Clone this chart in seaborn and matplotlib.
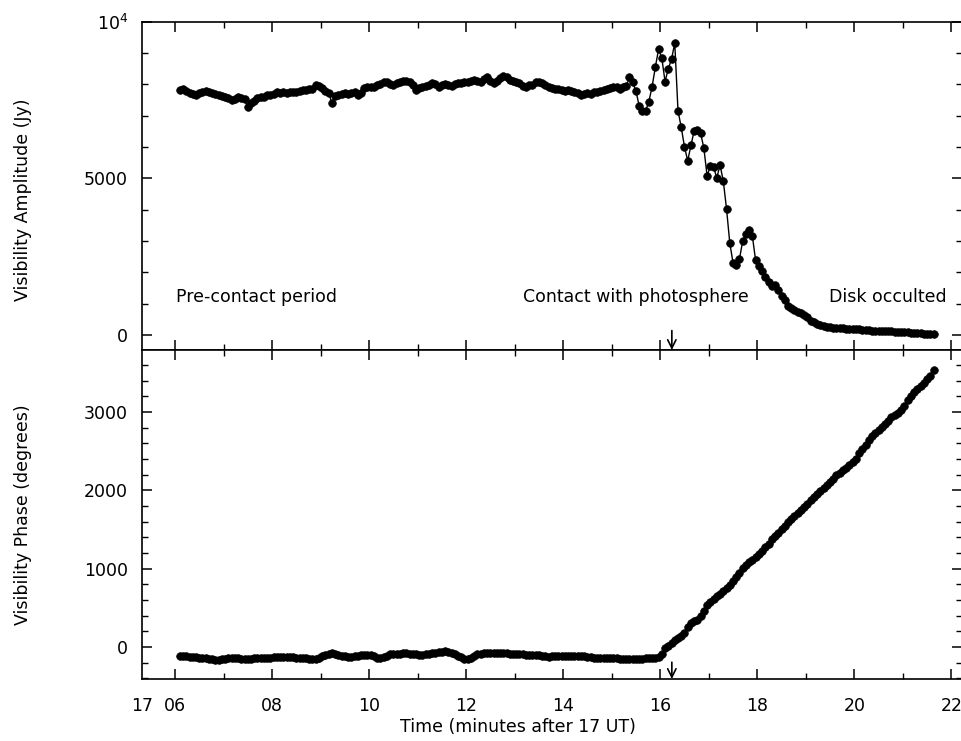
import numpy as np
import pandas as pd
import seaborn as sns
import matplotlib.pyplot as plt
from matplotlib.ticker import MultipleLocator, FixedLocator, FixedFormatter
import matplotlib.transforms as mtransforms

# sampling: one point every 4 s, starting 17h 06.1m
t_start = 6.10
cadence_min = 1 / 15

# visibility amplitude (Jy), one row per minute
amplitude = [
    7820, 7850, 7800, 7720, 7690, 7660, 7720, 7770, 7780, 7760, 7740, 7700, 7670, 7640, 7610,
    7580, 7500, 7530, 7590, 7560, 7520, 7280, 7420, 7480, 7550, 7590, 7600, 7660, 7650, 7700,
    7750, 7730, 7760, 7740, 7750, 7770, 7750, 7800, 7820, 7810, 7850, 7840, 7970, 7940, 7880,
    7780, 7740, 7400, 7620, 7660, 7700, 7720, 7700, 7730, 7770, 7660, 7720, 7870, 7900, 7920,
    7930, 7980, 8010, 8060, 8090, 8020, 7980, 8050, 8090, 8110, 8100, 8060, 7980, 7830, 7870,
    7900, 7950, 7990, 8030, 8000, 7930, 7970, 8010, 7980, 7950, 8000, 8040, 8030, 8070, 8090,
    8120, 8140, 8100, 8090, 8180, 8250, 8120, 8040, 8120, 8200, 8270, 8220, 8140, 8120, 8090,
    8040, 7950, 7930, 7990, 7980, 8060, 8090, 8030, 7980, 7900, 7870, 7850, 7840, 7810, 7800,
    7820, 7800, 7770, 7730, 7670, 7680, 7710, 7700, 7750, 7770, 7780, 7810, 7860, 7880, 7900,
    7930, 7850, 7900, 7950, 8220, 8060, 7790, 7310, 7160, 7160, 7450, 7930, 8550, 9120, 8840,
    8090, 8500, 8800, 9320, 7160, 6630, 6010, 5560, 6050, 6520, 6540, 6440, 5960, 5080, 5390,
    5350, 5020, 5420, 4920, 4030, 2950, 2310, 2240, 2420, 3000, 3210, 3340, 3150, 2380, 2190,
    2030, 1850, 1700, 1560, 1590, 1420, 1230, 1100, 930, 850, 790, 740, 690, 640, 580,
    455, 400, 340, 310, 280, 260, 245, 230, 220, 215, 210, 205, 200, 195, 190,
    180, 170, 160, 150, 140, 135, 130, 125, 120, 115, 110, 105, 100, 95, 90,
    80, 72, 65, 58, 52, 45, 40, 35, 30,
]

# visibility phase (degrees)
phase = [
    -110, -115, -120, -125, -128, -132, -136, -135, -140, -150, -158, -163, -166, -160, -150,
    -142, -138, -136, -142, -148, -152, -155, -150, -146, -142, -140, -138, -136, -135, -134,
    -132, -130, -128, -126, -130, -134, -136, -135, -138, -145, -150, -153, -148, -135, -118,
    -100, -85, -80, -90, -105, -111, -118, -122, -124, -118, -110, -104, -100, -98, -102,
    -120, -140, -145, -130, -110, -96, -92, -88, -84, -81, -82, -86, -90, -94, -100,
    -98, -90, -85, -81, -76, -70, -62, -58, -62, -80, -94, -110, -130, -150, -153,
    -145, -120, -95, -84, -81, -80, -81, -82, -81, -80, -81, -83, -86, -90, -94,
    -94, -96, -98, -100, -102, -104, -108, -112, -118, -124, -120, -115, -111, -110, -111,
    -111, -112, -112, -111, -113, -118, -125, -132, -136, -138, -140, -141, -142, -143, -145,
    -146, -148, -150, -152, -153, -153, -152, -150, -148, -146, -145, -142, -145, -130, -90,
    -17, 15, 50, 85, 110, 140, 180, 250, 305, 330, 350, 400, 460, 530, 580,
    615, 650, 680, 710, 750, 790, 840, 890, 950, 1010, 1050, 1090, 1110, 1150, 1190,
    1230, 1270, 1320, 1380, 1420, 1460, 1500, 1545, 1590, 1630, 1670, 1710, 1750, 1790, 1830,
    1870, 1910, 1950, 1990, 2030, 2070, 2110, 2150, 2190, 2225, 2260, 2290, 2325, 2360, 2400,
    2480, 2530, 2580, 2640, 2690, 2730, 2770, 2810, 2850, 2890, 2930, 2960, 2990, 3030, 3080,
    3150, 3210, 3250, 3290, 3330, 3370, 3420, 3460, 3530,
]

contact_time = 16.24
x_ticks = [6, 8, 10, 12, 14, 16, 18, 20, 22]
x_tick_labels = ["06", "08", "10", "12", "14", "16", "18", "20", "22"]
amp_ticks = [0, 5000, 10000]
amp_tick_labels = ["0", "5000", r"$10^4$"]
phase_ticks = [0, 1000, 2000, 3000]
phase_tick_labels = ["0", "1000", "2000", "3000"]

time = t_start + np.arange(len(amplitude)) * cadence_min
df = pd.DataFrame({"time": time, "amplitude": amplitude, "phase": phase})

sns.set_style("ticks")
plt.rcParams["font.family"] = ["DejaVu Sans"]
plt.rcParams["font.size"] = 12
for k in ("text.color", "axes.labelcolor", "xtick.color", "ytick.color", "axes.edgecolor"):
    plt.rcParams[k] = "black"
plt.rcParams["xtick.direction"] = "in"
plt.rcParams["ytick.direction"] = "in"
plt.rcParams["xtick.top"] = True
plt.rcParams["ytick.right"] = True

fig = plt.figure(figsize=(9.62, 7.41), dpi=100)
ax1 = fig.add_axes([0.1476, 0.5277, 0.8519, 0.4430])
ax2 = fig.add_axes([0.1476, 0.0837, 0.8519, 0.4440])

line_kw = dict(color="black", marker="o", markersize=5.5, linewidth=1.0,
               markeredgecolor="black", markeredgewidth=0.5)
sns.lineplot(data=df, x="time", y="amplitude", ax=ax1, **line_kw)
sns.lineplot(data=df, x="time", y="phase", ax=ax2, **line_kw)

x_pad = 13
for ax in (ax1, ax2):
    ax.set_xlim(5.32, 22.21)
    ax.xaxis.set_major_locator(FixedLocator(x_ticks))
    ax.xaxis.set_minor_locator(MultipleLocator(1))
    ax.tick_params(which="major", length=7, width=1.1, pad=10, labelsize=12.5)
    ax.tick_params(axis="x", which="major", pad=x_pad)
    ax.tick_params(which="minor", length=4, width=1.0)
    for s in ax.spines.values():
        s.set_linewidth(1.2)

ax1.set_ylim(-480, 10000)
ax1.yaxis.set_major_locator(FixedLocator(amp_ticks))
ax1.yaxis.set_major_formatter(FixedFormatter(amp_tick_labels))
ax1.yaxis.set_minor_locator(MultipleLocator(1000))
ax1.tick_params(axis="x", labelbottom=False)
ax1.set_xlabel("")
ax1.set_ylabel("Visibility Amplitude (Jy)", fontsize=12.5)
ax1.yaxis.set_label_coords(-0.134, 0.457)

ax2.set_ylim(-409, 3792)
ax2.yaxis.set_major_locator(FixedLocator(phase_ticks))
ax2.yaxis.set_major_formatter(FixedFormatter(phase_tick_labels))
ax2.yaxis.set_minor_locator(MultipleLocator(200))
ax2.xaxis.set_major_formatter(FixedFormatter(x_tick_labels))
ax2.set_ylabel("Visibility Phase (degrees)", fontsize=12.5)
ax2.yaxis.set_label_coords(-0.134, 0.5)
ax2.set_xlabel("Time (minutes after 17 UT)", fontsize=12.5)
ax2.xaxis.set_label_coords(0.459, -0.118)

# hour prefix in front of the first tick label, aligned with the tick labels
prefix_tr = ax2.transAxes + mtransforms.ScaledTranslation(0, -x_pad / 72, fig.dpi_scale_trans)
ax2.text(0, 0, "17", transform=prefix_tr, ha="center", va="top", fontsize=12.5)

# period annotations
ax1.text(6.02, 1200, "Pre-contact period", fontsize=12.5, va="center")
ax1.text(13.18, 1200, "Contact with photosphere", fontsize=12.5, va="center")
ax1.text(19.48, 1200, "Disk occulted", fontsize=12.5, va="center")

# contact arrows
arrow = dict(arrowstyle="->,head_length=0.5,head_width=0.25", color="black",
             lw=1.2, shrinkA=0, shrinkB=0)
ax1.annotate("", xy=(contact_time, -480), xytext=(contact_time, 140), arrowprops=arrow)
ax2.annotate("", xy=(contact_time, -409), xytext=(contact_time, -195), arrowprops=arrow)

fig.savefig("out.png", dpi=100)
